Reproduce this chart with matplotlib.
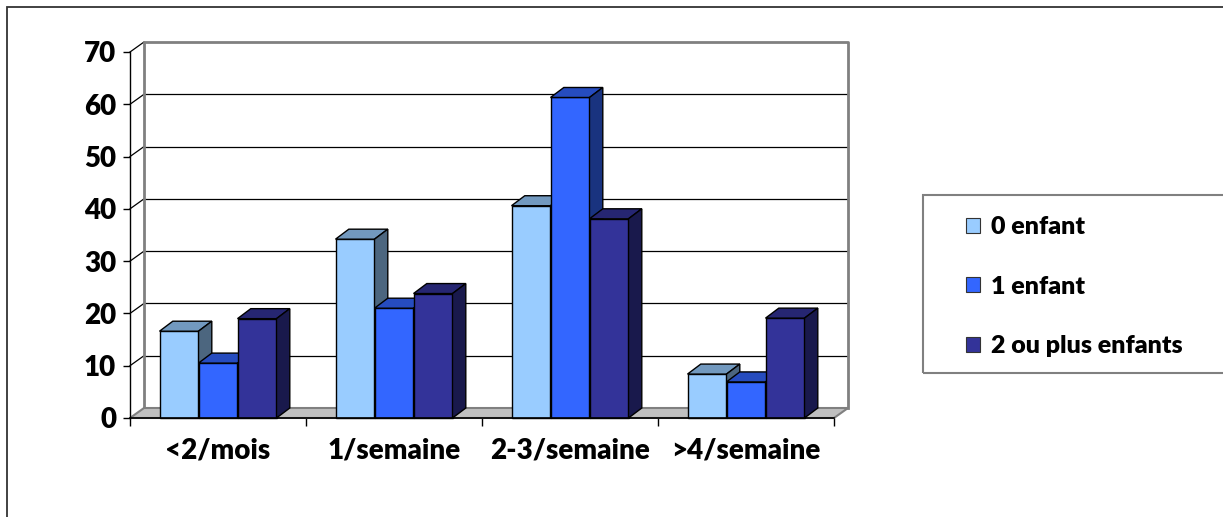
import numpy as np
import matplotlib.pyplot as plt
from matplotlib.patches import Polygon, Rectangle, Patch

# données
categories = ['<2/mois', '1/semaine', '2-3/semaine', '>4/semaine']
series = ['0 enfant', '1 enfant', '2 ou plus enfants']
val_0 = [16.6, 34.2, 40.6, 8.4]
val_1 = [10.5, 21.0, 61.3, 6.9]
val_2 = [19.0, 23.8, 38.1, 19.1]
values = [val_0, val_1, val_2]
yticks = [0, 10, 20, 30, 40, 50, 60, 70]

colors = ['#99CCFF', '#3366FF', '#333399']
font = ['Lato', 'DejaVu Sans']
fw = 'heavy'

W, H = 1223, 517
fig = plt.figure(figsize=(W / 100, H / 100), dpi=100)
# plan avant : x de 130 a 834 px, y de 418 (0) a 52 (70)
ax = fig.add_axes([130 / W, (H - 418) / H, 704 / W, 366 / H])
ax.set_xlim(0, len(categories))
ax.set_ylim(0, 70)
ax.patch.set_alpha(0)

# profondeur de la perspective (unités de données)
ddx, ddy = 14 / 176, 10 / 5.229
bdx, bdy = 13.3 / 176, 10 / 5.229
bw = 39 / 176
ncat = len(categories)

def shade(c, f):
    r, g, b = [int(c[i:i + 2], 16) for i in (1, 3, 5)]
    return '#%02x%02x%02x' % (int(r * f), int(g * f), int(b * f))

# mur du fond + quadrillage
for v in yticks[1:-1]:
    ax.plot([ddx, ncat + ddx], [v + ddy, v + ddy], color='black', lw=0.9, clip_on=False, zorder=1)
for v in yticks[1:]:
    ax.plot([0, ddx], [v, v + ddy], color='black', lw=0.9, clip_on=False, zorder=1)
ax.plot([ddx, ddx, ncat + ddx, ncat + ddx], [ddy, 70 + ddy, 70 + ddy, ddy],
        color='#808080', lw=2, clip_on=False, zorder=1)
# sol
ax.add_patch(Polygon([[0, 0], [ncat, 0], [ncat + ddx, ddy], [ddx, ddy]], closed=True,
                     facecolor='#C0C0C0', edgecolor='#808080', lw=1.5, clip_on=False, zorder=2))

# barres en pseudo-3D
for i in range(ncat):
    for j, vals in enumerate(values):
        x0 = i + 0.5 + (j - 1.5) * bw
        x1 = x0 + bw
        h = vals[i]
        z = 3 + i * 3 + j * 0.1
        ax.bar(x0, h, width=bw, align='edge', color=colors[j], edgecolor='black', lw=1,
               zorder=z, clip_on=False)
        ax.add_patch(Polygon([[x0, h], [x1, h], [x1 + bdx, h + bdy], [x0 + bdx, h + bdy]],
                             closed=True, facecolor=shade(colors[j], 0.75), edgecolor='black',
                             lw=1, zorder=z, clip_on=False))
        ax.add_patch(Polygon([[x1, 0], [x1, h], [x1 + bdx, h + bdy], [x1 + bdx, bdy]],
                             closed=True, facecolor=shade(colors[j], 0.5), edgecolor='black',
                             lw=1, zorder=z, clip_on=False))

# axes
for s in ['top', 'right']:
    ax.spines[s].set_visible(False)
ax.spines['left'].set_linewidth(1)
ax.spines['bottom'].set_linewidth(1.2)
ax.spines['bottom'].set_zorder(30)
ax.set_yticks(yticks)
ax.set_yticklabels([str(v) for v in yticks], fontsize=20, fontweight=fw, family=font)
ax.tick_params(axis='y', length=5, width=1, pad=5)
ax.set_xticks(range(ncat + 1))
ax.set_xticklabels([])
ax.tick_params(axis='x', which='major', length=6, width=1)
ax.set_xticks(np.arange(ncat) + 0.5, minor=True)
ax.set_xticklabels(categories, minor=True, fontsize=20, fontweight=fw, family=font)
ax.tick_params(axis='x', which='minor', length=0, pad=14)

# cadre extérieur et cadre de légende
fig.patches.append(Rectangle((7 / W, -0.1), 1.2, 1.1 - 7 / H, transform=fig.transFigure,
                             fill=False, edgecolor='#333333', lw=1.3))
fig.patches.append(Rectangle((923 / W, (H - 373) / H), 0.5, 178 / H, transform=fig.transFigure,
                             fill=False, edgecolor='#808080', lw=1.5))

handles = [Patch(facecolor=c, edgecolor='#333333', lw=0.8) for c in colors]
fig.legend(handles, series, loc='upper left', bbox_to_anchor=(966 / W, (H - 216) / H),
           frameon=False, prop={'family': font, 'weight': fw, 'size': 18},
           handlelength=0.55, handleheight=0.55, handletextpad=0.45, labelspacing=1.5,
           borderpad=0, borderaxespad=0)

fig.savefig('out.png', dpi=100)
